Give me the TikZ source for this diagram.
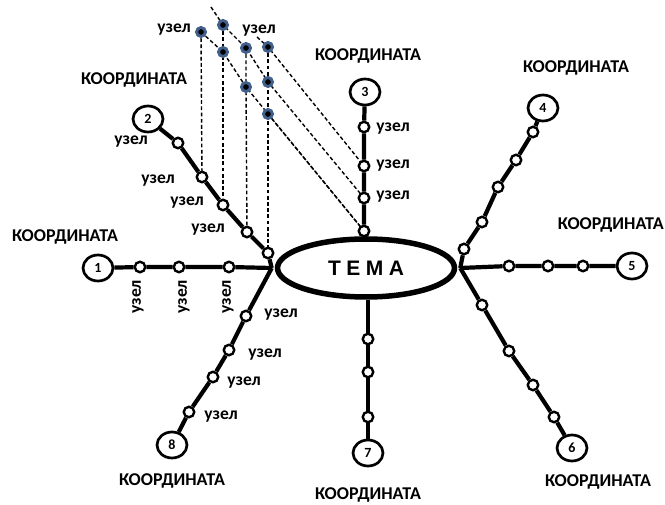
\documentclass[tikz,border=0pt]{standalone}
\usepackage{fontspec}
\setmainfont{Carlito}
\newfontfamily\themefont{Liberation Sans}
\usetikzlibrary{shapes.geometric}
\pgfdeclarelayer{paper}
\pgfdeclarelayer{links}
\pgfsetlayers{paper,links,main}
\definecolor{dotblue}{RGB}{66,96,140}
\tikzset{
  spoke/.style={line width=4.2pt},
  proj/.style={line width=1.4pt, dash pattern=on 3.8pt off 2.4pt},
  knotnode/.style={circle, draw, fill=white, line width=2.4pt, minimum size=10.5pt, inner sep=0pt},
  numnode/.style={ellipse, draw, fill=white, line width=2.7pt, minimum width=30pt,
    minimum height=26pt, inner sep=0pt, font=\bfseries\fontsize{14}{14}\selectfont},
  crossdot/.style={circle, fill=black, draw=dotblue, line width=2.9pt, minimum size=9pt, inner sep=0pt},
  lbl/.style={inner sep=0pt, font=\bfseries\fontsize{17.5}{17.5}\selectfont},
  coordlbl/.style={inner sep=0pt, font=\bfseries\fontsize{18}{18}\selectfont},
}
\begin{document}
\begin{tikzpicture}[x=1pt,y=-1pt]
\begin{pgfonlayer}{paper}
  \fill[white] (0,0) rectangle (665,505);
\end{pgfonlayer}
\useasboundingbox (0,0) rectangle (665,505);

% central theme
\node[ellipse, draw, line width=5.5pt, minimum width=177pt, minimum height=58pt, inner sep=0pt,
      font=\themefont\bfseries\fontsize{21}{21}\selectfont] (theme) at (366,268)
      {Т\kern5.5pt Е\kern5.5pt М\kern5.5pt А};
\coordinate (W) at ([xshift=-3pt]theme.west);
\coordinate (E) at ([xshift=3pt]theme.east);

% numbered ends of the axes
\node[numnode] (c1) at (98,268) {1};
\node[numnode] (c2) at (148,119) {2};
\node[numnode] (c3) at (365,92) {3};
\node[numnode] (c4) at (543,108) {4};
\node[numnode] (c5) at (632,266) {5};
\node[numnode] (c6) at (572,448) {6};
\node[numnode] (c7) at (368,453) {7};
\node[numnode] (c8) at (172,445) {8};

% knots on the axes
\node[knotnode] (k11) at (229,267) {};
\node[knotnode] (k12) at (179,267) {};
\node[knotnode] (k13) at (140,267) {};

\node[knotnode] (k21) at (268,253) {};
\node[knotnode] (k22) at (247,232) {};
\node[knotnode] (k23) at (223,205) {};
\node[knotnode] (k24) at (202,177) {};
\node[knotnode] (k25) at (178,143) {};

\node[knotnode] (k31) at (364,231) {};
\node[knotnode] (k32) at (364,198) {};
\node[knotnode] (k33) at (364,166) {};
\node[knotnode] (k34) at (364,127) {};

\node[knotnode] (k41) at (464,249) {};
\node[knotnode] (k42) at (482,222) {};
\node[knotnode] (k43) at (498,187) {};
\node[knotnode] (k44) at (516,160) {};
\node[knotnode] (k45) at (533,132) {};

\node[knotnode] (k51) at (509,266) {};
\node[knotnode] (k52) at (548,266) {};
\node[knotnode] (k53) at (583,266) {};

\node[knotnode] (k61) at (482,305) {};
\node[knotnode] (k62) at (509,351) {};
\node[knotnode] (k63) at (533,385) {};
\node[knotnode] (k64) at (554,417) {};

\node[knotnode] (k71) at (368,339) {};
\node[knotnode] (k72) at (368,372) {};
\node[knotnode] (k73) at (368,417) {};

\node[knotnode] (k81) at (246,316) {};
\node[knotnode] (k82) at (229,350) {};
\node[knotnode] (k83) at (213,377) {};
\node[knotnode] (k84) at (189,412) {};

% crossing points of the projections
\node[crossdot] (d1) at (201,32) {};
\node[crossdot] (d2) at (223,25) {};
\node[crossdot] (d3) at (223,52) {};
\node[crossdot] (d4) at (246,48) {};
\node[crossdot] (d5) at (268,47) {};
\node[crossdot] (d6) at (246,87) {};
\node[crossdot] (d7) at (268,82) {};
\node[crossdot] (d8) at (268,114) {};
\coordinate (ra) at (211,7);
\coordinate (rc) at (257,37);

\begin{pgfonlayer}{links}
  % axes
  \draw[spoke] (c1) -- (k13) -- (k12) -- (k11) -- (W);
  \draw[spoke] (c2) -- (k25) -- (k24) -- (k23) -- (k22) -- (k21) -- (W);
  \draw[spoke] (c3) -- (k34) -- (k33) -- (k32) -- (k31) -- (theme.north);
  \draw[spoke] (c4) -- (k45) -- (k44) -- (k43) -- (k42) -- (k41) -- (E);
  \draw[spoke] (c5) -- (k53) -- (k52) -- (k51) -- (E);
  \draw[spoke] (c6) -- (k64) -- (k63) -- (k62) -- (k61) -- (E);
  \draw[spoke] (c7) -- (k73) -- (k72) -- (k71) -- (k71 |- theme.south);
  \draw[spoke] (c8) -- (k84) -- (k83) -- (k82) -- (k81) -- (W);
  % vertical projections from axis 2
  \draw[proj] (d1.center) -- (k24.center);
  \draw[proj] (d2.center) -- (d3.center) -- (k23.center);
  \draw[proj] (d4.center) -- (d6.center) -- (k22.center);
  \draw[proj] (d5.center) -- (d7.center) -- (d8.center) -- (k21.center);
  % oblique projections from axis 3
  \draw[proj] (rc) -- (d5.center) -- (k33.center);
  \draw[proj] (ra) -- (d2.center) -- (d4.center) -- (d7.center) -- (k32.center);
  \draw[proj] (d1.center) -- (d3.center) -- (d6.center) -- (k31.center);
  \draw[proj] (d8.center) -- (k31.center);
\end{pgfonlayer}

% axis titles
\node[coordlbl] (t1) at (65,237) {КООРДИНАТА};
\node[coordlbl] (t2) at (134,80) {КООРДИНАТА};
\node[coordlbl] (t3) at (368,56) {КООРДИНАТА};
\node[coordlbl] (t4) at (576,68) {КООРДИНАТА};
\node[coordlbl, anchor=east] (t5) at (664,225) {КООРДИНАТА};
\node[coordlbl] (t6) at (598,482) {КООРДИНАТА};
\node[coordlbl] (t7) at (368,495) {КООРДИНАТА};
\node[coordlbl] (t8) at (172,481) {КООРДИНАТА};

% knot labels
\node[lbl] (u01) at (174,30) {узел};
\node[lbl] (u02) at (259,31) {узел};
\node[lbl, rotate=90] (u11) at (138,297) {узел};
\node[lbl, rotate=90] (u12) at (184,297) {узел};
\node[lbl, rotate=90] (u13) at (228,297) {узел};
\node[lbl] (u21) at (131,142) {узел};
\node[lbl] (u22) at (158,181) {узел};
\node[lbl] (u23) at (187,203) {узел};
\node[lbl] (u24) at (208,230) {узел};
\node[lbl] (u31) at (393,129) {узел};
\node[lbl] (u32) at (393,166) {узел};
\node[lbl] (u33) at (393,197) {узел};
\node[lbl] (u81) at (281,315) {узел};
\node[lbl] (u82) at (265,355) {узел};
\node[lbl] (u83) at (244,383) {узел};
\node[lbl] (u84) at (221,417) {узел};
\end{tikzpicture}
\end{document}
